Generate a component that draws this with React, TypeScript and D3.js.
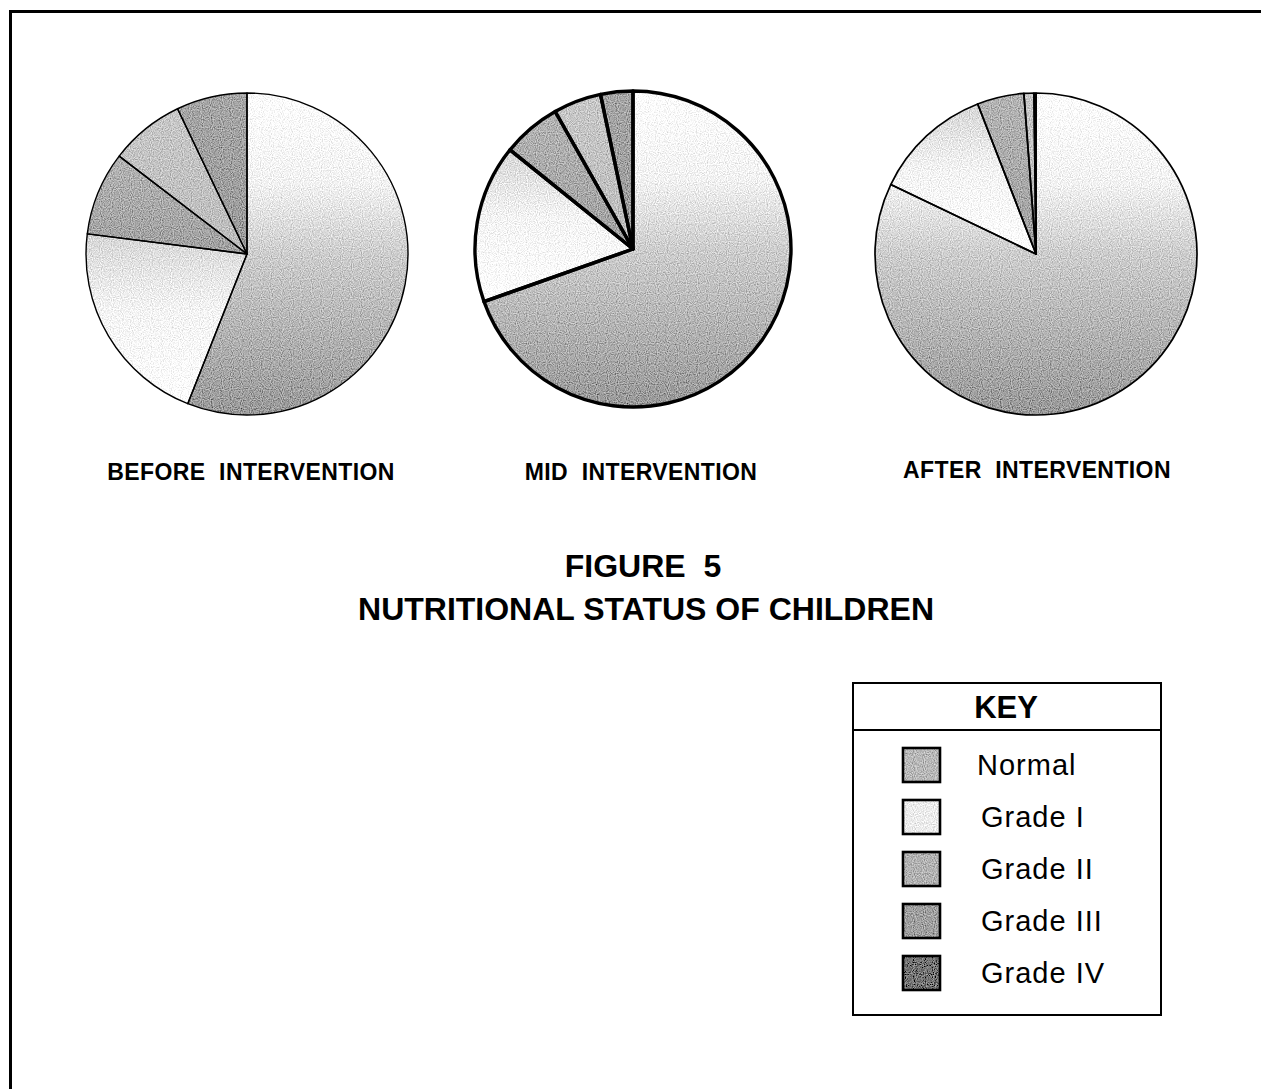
import * as d3 from "d3";

// categories and shares (percent)
const categories = ["Normal", "Grade I", "Grade II", "Grade III", "Grade IV"];
const beforeValues = [56, 21, 8.4, 7.5, 7.1];
const midValues = [69.6, 16.2, 6, 4.9, 3.3];
const afterValues = [82.1, 12, 4.7, 1.0, 0.2];
const pieTitles = ["BEFORE  INTERVENTION", "MID  INTERVENTION", "AFTER  INTERVENTION"];
const figureTitle = ["FIGURE  5", "NUTRITIONAL STATUS OF CHILDREN"];

// grey ramps per category (top of slice -> bottom of slice)
const sliceTones = [
  [[0, "#ffffff"], [0.28, "#f2f2f2"], [0.5, "#cdcdcd"], [1, "#989898"]],
  [[0, "#d6d6d6"], [0.45, "#f4f4f4"], [1, "#ffffff"]],
  [[0, "#b4b4b4"], [1, "#a0a0a0"]],
  [[0, "#c8c8c8"], [1, "#bcbcbc"]],
  [[0, "#a6a6a6"], [1, "#9a9a9a"]],
] as [number, string][][];
const swatchColors = ["#b8b8b8", "#ececec", "#b2b2b2", "#a0a0a0", "#747474"];

const FONT = "Arial, 'Liberation Sans', Helvetica, sans-serif";

const pies = [
  { values: beforeValues, cx: 247, cy: 254, r: 161, stroke: 1.4, title: pieTitles[0], tx: 251, ty: 480 },
  { values: midValues, cx: 633, cy: 249, r: 158, stroke: 3.4, title: pieTitles[1], tx: 641, ty: 480 },
  { values: afterValues, cx: 1036, cy: 254, r: 161, stroke: 1.7, title: pieTitles[2], tx: 1037, ty: 478 },
];

export default function App() {
  const pie = d3.pie<number>().sort(null).value(d => d);

  const legendY = d3.scaleBand().domain(categories).range([739, 999]).paddingInner(0);

  return (
    <svg width={1261} height={1089} viewBox="0 0 1261 1089"
      style={{ position: "absolute", left: 0, top: 0, background: "#fff" }}>
      <defs>
        <filter id="stipple" x="-5%" y="-5%" width="110%" height="110%">
          <feTurbulence type="fractalNoise" baseFrequency="0.9" numOctaves="1" seed="3" result="noise" />
          <feColorMatrix in="noise" type="matrix"
            values="1 0 0 0 0  1 0 0 0 0  1 0 0 0 0  0 0 0 0 1" result="grey" />
          <feComposite in="SourceGraphic" in2="grey" operator="arithmetic" k1="0" k2="1" k3="0.9" k4="-0.45" result="mix" />
          <feComposite in="mix" in2="SourceAlpha" operator="in" />
        </filter>
        {sliceTones.map((t, i) => (
          <linearGradient key={i} id={`tone${i}`} x1="0" y1="0" x2="0" y2="1">
            {t.map(([o, c]) => <stop key={o} offset={o} stopColor={c} />)}
          </linearGradient>
        ))}
      </defs>

      {/* outer frame, runs off the right and bottom edges */}
      <rect x={10.5} y={11.5} width={1280} height={1100} fill="none" stroke="#000" strokeWidth={3} />

      {pies.map((p, pi) => {
        const arcs = pie(p.values);
        const arc = d3.arc<d3.PieArcDatum<number>>().innerRadius(0).outerRadius(p.r);
        return (
          <g key={pi}>
            <g transform={`translate(${p.cx},${p.cy})`}>
              <g filter="url(#stipple)">
                {arcs.map((a, i) => (
                  <path key={i} d={arc(a) || ""} fill={`url(#tone${i})`} />
                ))}
              </g>
              {arcs.map((a, i) => (
                <path key={i} d={arc(a) || ""} fill="none" stroke="#000"
                  strokeWidth={p.stroke} strokeLinejoin="round" />
              ))}
            </g>
            <text x={p.tx} y={p.ty} textAnchor="middle" fontFamily={FONT} fontWeight="bold"
              fontSize={23} letterSpacing={0.4} style={{ whiteSpace: "pre" }}>{p.title}</text>
          </g>
        );
      })}

      <text x={643} y={577} textAnchor="middle" fontFamily={FONT} fontWeight="bold"
        fontSize={32} style={{ whiteSpace: "pre" }}>{figureTitle[0]}</text>
      <text x={646} y={620} textAnchor="middle" fontFamily={FONT} fontWeight="bold"
        fontSize={32}>{figureTitle[1]}</text>

      {/* key */}
      <g>
        <rect x={853} y={683} width={308} height={332} fill="#fff" stroke="#000" strokeWidth={2} />
        <line x1={853} x2={1161} y1={730} y2={730} stroke="#000" strokeWidth={2} />
        <text x={1006} y={718} textAnchor="middle" fontFamily={FONT} fontWeight="bold" fontSize={31}>KEY</text>
        <g filter="url(#stipple)">
          {categories.map((c, i) => {
            const cy = (legendY(c) || 0) + legendY.bandwidth() / 2;
            return <rect key={c} x={903} y={cy - 17} width={37} height={34} fill={swatchColors[i]} />;
          })}
        </g>
        {categories.map((c, i) => {
          const cy = (legendY(c) || 0) + legendY.bandwidth() / 2;
          return (
            <g key={c}>
              <rect x={903} y={cy - 17} width={37} height={34} fill="none" stroke="#000" strokeWidth={2.6} />
              <text x={i === 0 ? 977 : 981} y={cy + 10} fontFamily={FONT} fontSize={29}
                letterSpacing={1}>{c}</text>
            </g>
          );
        })}
      </g>
    </svg>
  );
}
